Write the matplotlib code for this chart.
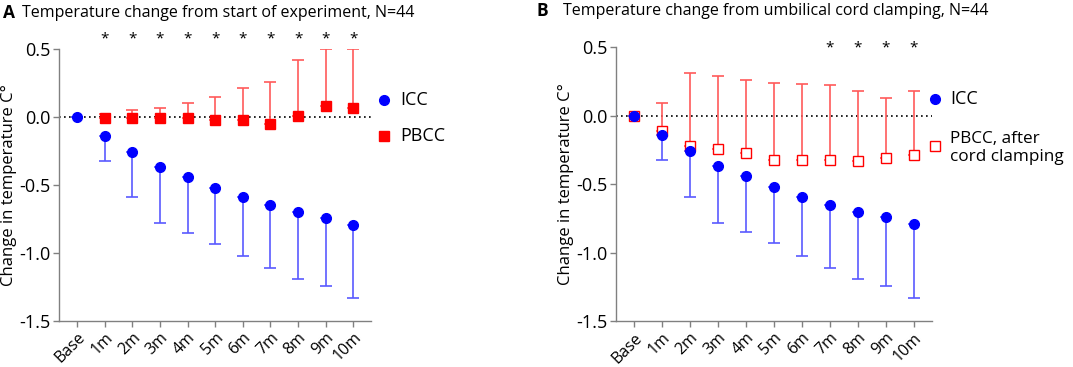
import matplotlib.pyplot as plt
import numpy as np

plt.rcParams['font.family'] = ['Open Sans', 'DejaVu Sans']

# Time points
labels = ['Base', '1m', '2m', '3m', '4m', '5m', '6m', '7m', '8m', '9m', '10m']

# Panel A: change from start of experiment
icc_mean = [0, -0.14, -0.26, -0.37, -0.44, -0.52, -0.59, -0.65, -0.70, -0.74, -0.79]
icc_low = [0, -0.32, -0.59, -0.78, -0.85, -0.93, -1.02, -1.11, -1.19, -1.245, -1.33]
pbcc_a_mean = [-0.005, -0.01, -0.01, -0.01, -0.02, -0.02, -0.05, 0.01, 0.08, 0.07]
pbcc_a_high = [0.02, 0.05, 0.07, 0.10, 0.15, 0.21, 0.26, 0.42, 0.50, 0.50]
stars_a = ['1m', '2m', '3m', '4m', '5m', '6m', '7m', '8m', '9m', '10m']

# Panel B: change from umbilical cord clamping
pbcc_b_mean = [0, -0.11, -0.22, -0.24, -0.27, -0.32, -0.32, -0.32, -0.33, -0.31, -0.29]
pbcc_b_high = [0, 0.09, 0.31, 0.29, 0.26, 0.24, 0.23, 0.22, 0.18, 0.13, 0.18]
stars_b = ['7m', '8m', '9m', '10m']

BLUE = '#0000ff'
BLUE_ERR = '#5a5aff'
RED = '#ff0000'
RED_ERR = '#ff5a5a'
GRAY = '#808080'

fig = plt.figure(figsize=(10.73, 3.67), dpi=100)
axA = fig.add_axes([0.055, 0.125, 0.291, 0.7415])
axB = fig.add_axes([0.574, 0.124, 0.2946, 0.748])

x = np.arange(len(labels))


def style(ax):
    ax.set_xlim(-0.65, 10.65)
    ax.set_ylim(-1.5, 0.5)
    ax.set_yticks([-1.5, -1.0, -0.5, 0.0, 0.5])
    ax.set_yticklabels(['-1.5', '-1.0', '-0.5', '0.0', '0.5'], fontsize=13)
    ax.set_xticks(x)
    ax.set_xticklabels(labels, rotation=45, ha='right', rotation_mode='anchor', fontsize=11.5)
    for s in ['top', 'right']:
        ax.spines[s].set_visible(False)
    for s in ['left', 'bottom']:
        ax.spines[s].set_color(GRAY)
        ax.spines[s].set_linewidth(1)
    ax.tick_params(color=GRAY, length=4, width=1, pad=2)
    ax.axhline(0, color='black', linestyle=(0, (1, 2)), linewidth=1.2, zorder=1)
    ax.set_ylabel('Change in temperature C°', fontsize=12, labelpad=2)


# Panel A
style(axA)
icc = np.array(icc_mean)
axA.errorbar(x, icc, yerr=[icc - np.array(icc_low), np.zeros(len(x))], fmt='none',
             ecolor=BLUE_ERR, elinewidth=1.2, capsize=4, capthick=1.2, zorder=2)
axA.plot(x, icc, 'o', color=BLUE, markersize=7, zorder=4, clip_on=False)
xa = x[1:]
pa = np.array(pbcc_a_mean)
axA.errorbar(xa, pa, yerr=[np.zeros(len(xa)), np.array(pbcc_a_high) - pa], fmt='none',
             ecolor=RED_ERR, elinewidth=1.2, capsize=4, capthick=1.2, zorder=2)
axA.plot(xa, pa, 's', color=RED, markersize=7, zorder=3, clip_on=False)
for lab in stars_a:
    axA.text(labels.index(lab), 0.575, '*', ha='center', va='center', fontsize=11, clip_on=False)

# Panel B
style(axB)
pb = np.array(pbcc_b_mean)
axB.errorbar(x, pb, yerr=[np.zeros(len(x)), np.array(pbcc_b_high) - pb], fmt='none',
             ecolor=RED_ERR, elinewidth=1.2, capsize=4, capthick=1.2, zorder=2)
axB.plot(x, pb, 's', markerfacecolor='white', markeredgecolor=RED, markeredgewidth=1,
         markersize=7.5, zorder=3, clip_on=False)
axB.errorbar(x, icc, yerr=[icc - np.array(icc_low), np.zeros(len(x))], fmt='none',
             ecolor=BLUE_ERR, elinewidth=1.2, capsize=4, capthick=1.2, zorder=2)
axB.plot(x, icc, 'o', color=BLUE, markersize=7, zorder=4, clip_on=False)
for lab in stars_b:
    axB.text(labels.index(lab), 0.49, '*', ha='center', va='center', fontsize=11, clip_on=False)

# Legends drawn as marker + text in figure coordinates
fig.lines.append(plt.Line2D([384 / 1073], [1 - 100 / 367], marker='o', color=BLUE, markersize=7,
                            transform=fig.transFigure))
fig.lines.append(plt.Line2D([384 / 1073], [1 - 136 / 367], marker='s', color=RED, markersize=7,
                            transform=fig.transFigure))
fig.text(400 / 1073, 1 - 100 / 367, 'ICC', fontsize=13, va='center')
fig.text(400 / 1073, 1 - 136 / 367, 'PBCC', fontsize=13, va='center')

fig.lines.append(plt.Line2D([935 / 1073], [1 - 99 / 367], marker='o', color=BLUE, markersize=7,
                            transform=fig.transFigure))
fig.lines.append(plt.Line2D([935 / 1073], [1 - 146 / 367], marker='s', markerfacecolor='white',
                            markeredgecolor=RED, markersize=7.5, transform=fig.transFigure))
fig.text(950 / 1073, 1 - 99 / 367, 'ICC', fontsize=13, va='center')
fig.text(950 / 1073, 1 - 148 / 367, 'PBCC, after\ncord clamping', fontsize=12.3, va='center',
         linespacing=1.1)

# Panel titles
fig.text(3 / 1073, 1 - 13 / 367, 'A', fontsize=12.5, fontweight='bold', va='center')
fig.text(22 / 1073, 1 - 13 / 367, 'Temperature change from start of experiment, N=44',
         fontsize=11.5, va='center')
fig.text(536 / 1073, 1 - 11 / 367, 'B', fontsize=12.5, fontweight='bold', va='center')
fig.text(563 / 1073, 1 - 11 / 367, 'Temperature change from umbilical cord clamping, N=44',
         fontsize=11.5, va='center')

fig.savefig('out.png', dpi=100)
